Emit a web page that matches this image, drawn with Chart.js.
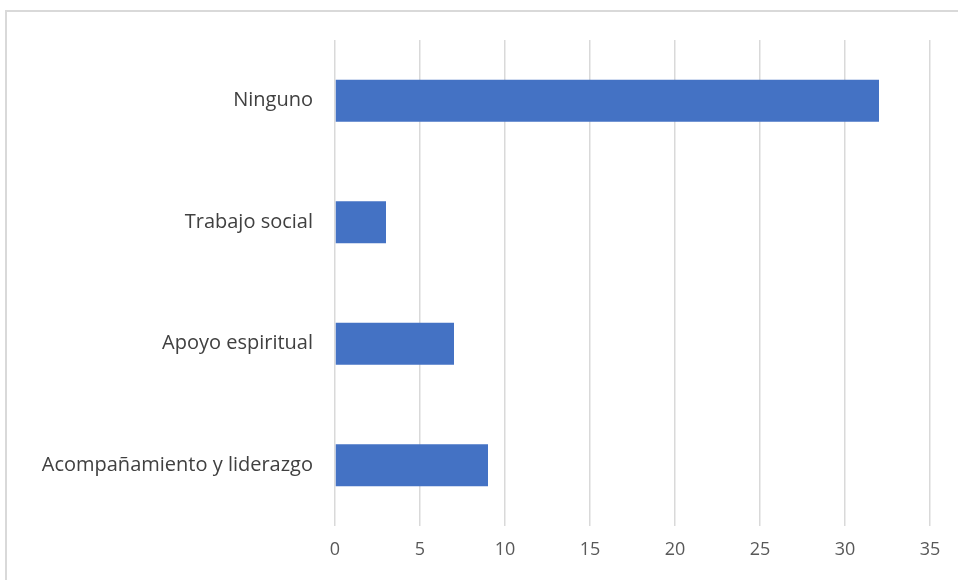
<!DOCTYPE html>
<html>
<head>
<meta charset="utf-8">
<script src="https://cdn.jsdelivr.net/npm/chart.js@4"></script>
<style>
  html, body { margin: 0; padding: 0; background: #fff; overflow: hidden; }
  #frame { position: absolute; left: 5px; top: 10px; width: 1000px; height: 620px; border: 2px solid #d9d9d9; }
  #wrap { position: absolute; left: 0; top: 0; width: 958px; height: 580px; }
</style>
</head>
<body>
<div id="frame"></div>
<div id="wrap"><canvas id="chart" width="958" height="580"></canvas></div>
<script>
// categories top to bottom, and their counts
const categories = ['Ninguno', 'Trabajo social', 'Apoyo espiritual', 'Acompañamiento y liderazgo'];
const values = [32, 3, 7, 9];
const xTicks = [0, 5, 10, 15, 20, 25, 30, 35];

new Chart(document.getElementById('chart').getContext('2d'), {
  type: 'bar',
  data: {
    labels: categories,
    datasets: [{
      data: values,
      backgroundColor: '#4472c4',
      borderWidth: 0,
      categoryPercentage: 1,
      barPercentage: 0.345
    }]
  },
  options: {
    indexAxis: 'y',
    responsive: false,
    animation: false,
    layout: { padding: { top: 40, right: 28, left: 0, bottom: 0 } },
    plugins: { legend: { display: false }, tooltip: { enabled: false } },
    scales: {
      x: {
        min: 0,
        max: 35,
        afterBuildTicks: s => { s.ticks = xTicks.map(v => ({ value: v })); },
        afterFit: s => { s.height = 54; },
        border: { display: false },
        grid: { color: '#d9d9d9', lineWidth: 1.5, drawTicks: false },
        ticks: { color: '#595959', padding: 13, font: { family: 'Open Sans', size: 18 } }
      },
      y: {
        afterFit: s => { s.width = 335; },
        border: { display: false },
        grid: { display: false, drawTicks: false },
        ticks: { color: '#404040', padding: 22, font: { family: 'Open Sans', size: 20 } }
      }
    }
  }
});
</script>
</body>
</html>
